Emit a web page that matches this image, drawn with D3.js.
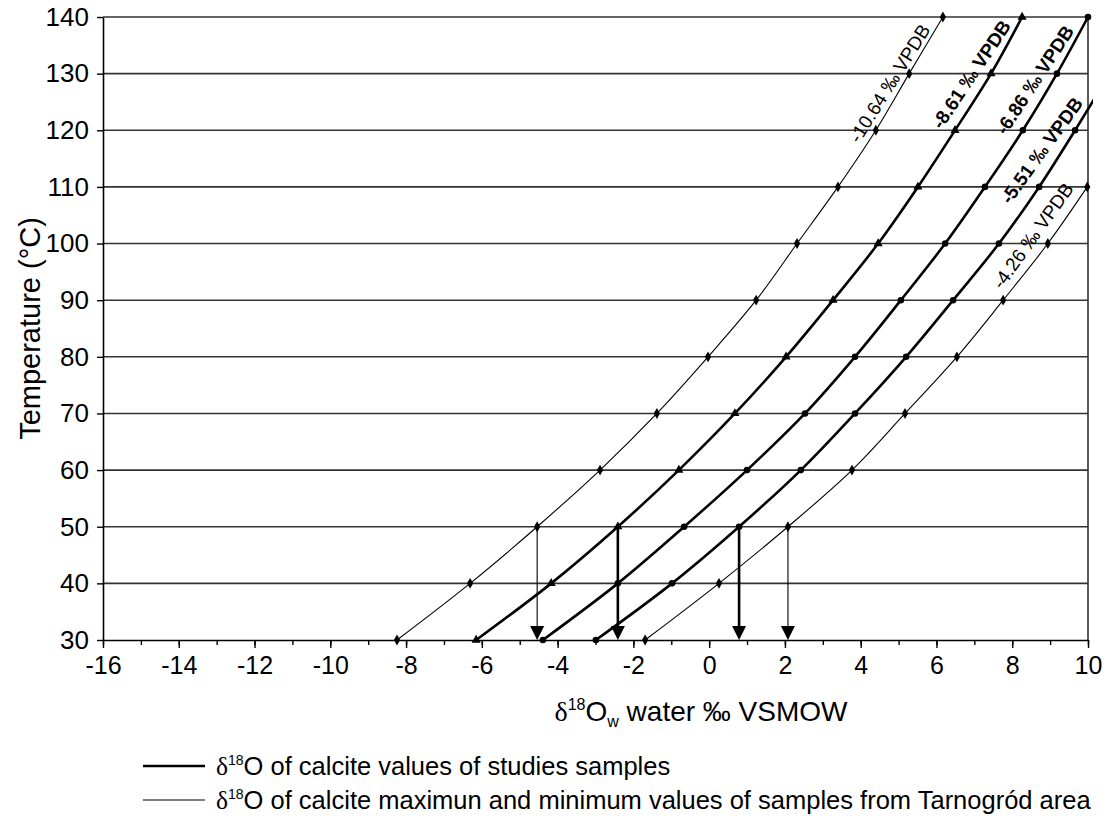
<!DOCTYPE html>
<html>
<head>
<meta charset="utf-8">
<script src="https://cdn.jsdelivr.net/npm/d3@7"></script>
<style>
  body { margin: 0; background: #fff; }
  text { font-family: "Liberation Sans", Arial, sans-serif; fill: #000; }
</style>
</head>
<body>
<svg id="chart" width="1107" height="818"></svg>
<script>
// Temperature steps (°C) at which each isoline was computed
const temps = [30, 40, 50, 60, 70, 80, 90, 100, 110, 120, 130, 140];

// δ18O water (‰ VSMOW) for each calcite δ18O value (‰ VPDB)
const water_m1064 = [-8.24, -6.31, -4.54, -2.88, -1.38, -0.03, 1.24, 2.32, 3.40, 4.40, 5.28, 6.17];
const water_m861  = [-6.15, -4.17, -2.41, -0.80, 0.68, 2.03, 3.27, 4.46, 5.51, 6.49, 7.44, 8.26];
const water_m686  = [-4.39, -2.41, -0.66, 1.00, 2.53, 3.85, 5.06, 6.23, 7.28, 8.28, 9.18, 10.00];
const water_m551  = [-2.99, -0.98, 0.79, 2.42, 3.85, 5.20, 6.44, 7.65, 8.71, 9.66, 10.57];
const water_m426  = [-1.69, 0.26, 2.08, 3.77, 5.17, 6.54, 7.76, 8.94, 9.98];

const seriesNames  = ["-10.64 ‰ VPDB", "-8.61 ‰ VPDB", "-6.86 ‰ VPDB", "-5.51 ‰ VPDB", "-4.26 ‰ VPDB"];
const seriesValues = [water_m1064, water_m861, water_m686, water_m551, water_m426];
const seriesStudied = [false, true, true, true, false]; // studied samples vs. area min/max

// Temperature read down to the water axis for selected isolines
const arrowTemp = 50;
const arrowSeries = [0, 1, 3, 4];

const xTicks = d3.range(-16, 11, 2);
const xMinorTicks = d3.range(-16, 11, 1);
const yTicks = d3.range(30, 141, 10);

const legendLabels = [
  "O of calcite values of studies samples",
  "O of calcite maximun and minimum values of samples from Tarnogród area"
];

// ---------------------------------------------------------------
const svg = d3.select("#chart");
const x = d3.scaleLinear().domain([-16, 10]).range([103, 1088]);
const y = d3.scaleLinear().domain([30, 140]).range([640, 17]);

const series = seriesValues.map((vals, i) => ({
  name: seriesNames[i],
  studied: seriesStudied[i],
  points: vals.map((v, j) => ({ t: temps[j], v }))
}));

// Horizontal gridlines
svg.append("g").selectAll("line")
  .data(yTicks.filter(t => t > 30))
  .join("line")
  .attr("x1", x(-16)).attr("x2", x(10))
  .attr("y1", d => y(d)).attr("y2", d => y(d))
  .attr("stroke", "#333").attr("stroke-width", 1.6);

// Right frame
svg.append("line")
  .attr("x1", x(10)).attr("x2", x(10))
  .attr("y1", y(140)).attr("y2", y(30))
  .attr("stroke", "#333").attr("stroke-width", 1.6);

const plainNum = d => String(d);

// Y axis
const yAxis = svg.append("g")
  .attr("transform", `translate(${x(-16)},0)`)
  .call(d3.axisLeft(y).tickValues(yTicks).tickFormat(plainNum)
    .tickSize(6).tickPadding(8).tickSizeOuter(0));
yAxis.selectAll("text").style("font-size", "26px");

// X axis: minor ticks then major ticks with labels
const xMinor = svg.append("g")
  .attr("transform", `translate(0,${y(30)})`)
  .call(d3.axisBottom(x).tickValues(xMinorTicks).tickSize(5).tickFormat("").tickSizeOuter(0));
xMinor.select(".domain").remove();
const xAxis = svg.append("g")
  .attr("transform", `translate(0,${y(30)})`)
  .call(d3.axisBottom(x).tickValues(xTicks).tickFormat(plainNum)
    .tickSize(8).tickPadding(8).tickSizeOuter(0));
xAxis.selectAll("text").style("font-size", "25px");
svg.selectAll(".domain").attr("stroke-width", 1.6);
svg.selectAll(".tick line").attr("stroke-width", 1.4);

// Clip for isolines running past the right edge
svg.append("clipPath").attr("id", "plotClip")
  .append("rect").attr("x", 95).attr("y", 10).attr("width", 1093 - 95).attr("height", 640);

const line = d3.line()
  .x(d => x(d.v)).y(d => y(d.t))
  .curve(d3.curveCatmullRom.alpha(0.5));

const plot = svg.append("g").attr("clip-path", "url(#plotClip)");

plot.selectAll("path.iso")
  .data(series)
  .join("path")
  .attr("class", "iso")
  .attr("fill", "none")
  .attr("stroke", "#000")
  .attr("stroke-width", d => d.studied ? 2.6 : 1.1)
  .attr("d", d => line(d.points));

// Point markers
const symbols = [d3.symbolDiamond, d3.symbolTriangle, d3.symbolCircle, d3.symbolCircle, d3.symbolDiamond];
series.forEach((s, i) => {
  plot.append("g").selectAll("path")
    .data(s.points)
    .join("path")
    .attr("transform", d => `translate(${x(d.v)},${y(d.t)})`)
    .attr("d", d3.symbol().type(symbols[i]).size(i === 1 ? 36 : 34))
    .attr("fill", "#000");
});

// Arrows from the 50 °C intersections down to the water axis
arrowSeries.forEach(i => {
  const s = series[i];
  const p = s.points.find(d => d.t === arrowTemp);
  const ax = x(p.v), top = y(arrowTemp), tip = y(30);
  const head = 14, half = 7;
  svg.append("line")
    .attr("x1", ax).attr("x2", ax)
    .attr("y1", top).attr("y2", tip - head + 1)
    .attr("stroke", "#000")
    .attr("stroke-width", s.studied ? 2.6 : 1.1);
  svg.append("path")
    .attr("d", `M${ax - half},${tip - head}L${ax + half},${tip - head}L${ax},${tip}Z`)
    .attr("fill", "#000");
});

// Labels along the upper part of each isoline
function pointAt(s, t) {
  const pts = s.points;
  for (let k = 0; k < pts.length - 1; k++) {
    if (t >= pts[k].t && t <= pts[k + 1].t) {
      const f = (t - pts[k].t) / (pts[k + 1].t - pts[k].t);
      return [x(pts[k].v + f * (pts[k + 1].v - pts[k].v)), y(t)];
    }
  }
  const last = pts[pts.length - 1];
  return [x(last.v), y(last.t)];
}
const labelPlacement = [
  { t0: 117, t1: 140, off: 6, size: 19, tilt: 1 },
  { t0: 119, t1: 140, off: 11, size: 19, tilt: 3 },
  { t0: 118, t1: 140, off: 11, size: 19, tilt: 3 },
  { t0: 105.5, t1: 125, off: 13, size: 19, tilt: 3 },
  { t0: 91, t1: 110, off: 7, size: 19, tilt: -1 }
];
series.forEach((s, i) => {
  const lp = labelPlacement[i];
  const p0 = pointAt(s, lp.t0), p1 = pointAt(s, lp.t1);
  const a = Math.atan2(p1[1] - p0[1], p1[0] - p0[0]);
  const nx = Math.sin(a), ny = -Math.cos(a);
  const px = p0[0] + nx * lp.off, py = p0[1] + ny * lp.off;
  svg.append("text")
    .attr("transform", `translate(${px},${py}) rotate(${a * 180 / Math.PI + lp.tilt})`)
    .style("font-size", lp.size + "px")
    .style("font-weight", s.studied ? "bold" : "normal")
    .text(s.name);
});

// Axis titles
svg.append("text")
  .attr("transform", `translate(40,${(y(30) + y(140)) / 2}) rotate(-90)`)
  .attr("text-anchor", "middle")
  .style("font-size", "29px")
  .text("Temperature (°C)");

const xt = svg.append("text")
  .attr("x", 701).attr("y", 721)
  .attr("text-anchor", "middle")
  .style("font-size", "28px");
xt.append("tspan").style("font-family", "'Liberation Serif', serif").text("δ");
xt.append("tspan").attr("dy", -11).style("font-size", "16px").text("18");
xt.append("tspan").attr("dy", 11).text("O");
xt.append("tspan").attr("dy", 6).style("font-size", "16px").text("w");
xt.append("tspan").attr("dy", -6).text(" water ‰ VSMOW");

// Legend
legendLabels.forEach((lab, i) => {
  const ly = 766 + i * 34;
  svg.append("line")
    .attr("x1", 143).attr("x2", 205)
    .attr("y1", ly).attr("y2", ly)
    .attr("stroke", "#000")
    .attr("stroke-width", i === 0 ? 2.6 : 1.1);
  const t = svg.append("text").attr("x", 216).attr("y", ly + 9).style("font-size", "25.5px");
  t.append("tspan").style("font-family", "'Liberation Serif', serif").text("δ");
  t.append("tspan").attr("dy", -10).style("font-size", "14px").text("18");
  t.append("tspan").attr("dy", 10).text(lab);
});
</script>
</body>
</html>
